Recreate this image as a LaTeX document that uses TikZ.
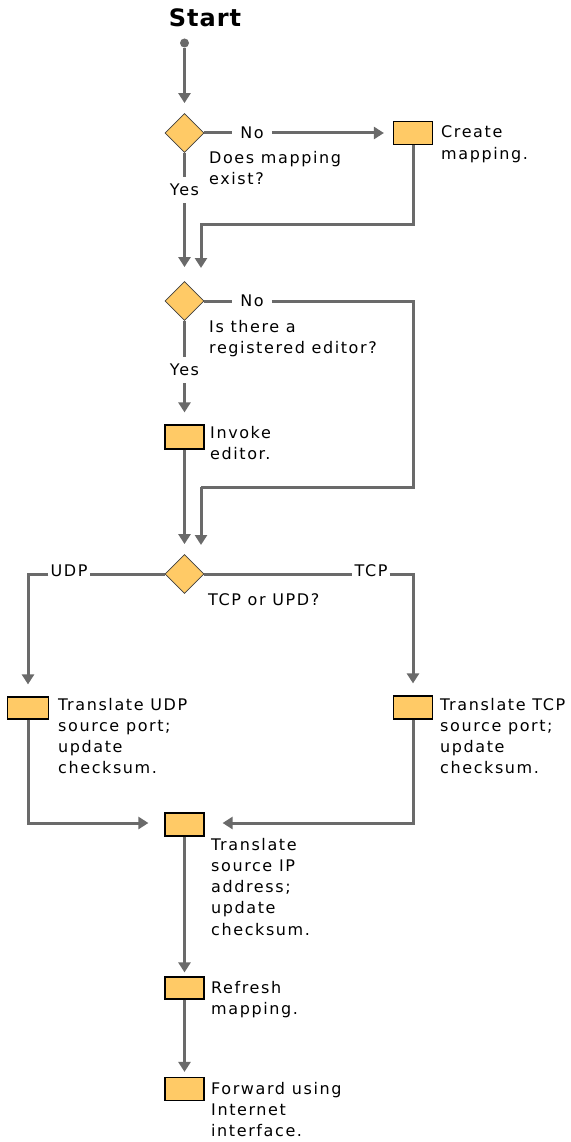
\documentclass[tikz,border=0pt]{standalone}
\usepackage{fontspec}
\usetikzlibrary{shapes.geometric,arrows.meta}
\newfontfamily\lblfont{DejaVu Sans}[LetterSpace=10]
\newfontfamily\startfont{DejaVu Sans}[LetterSpace=4]
\definecolor{boxfill}{HTML}{FFCA66}
\definecolor{linegray}{HTML}{6A6A6A}
\tikzset{
  stepbox/.style={draw=black, line width=1.2pt, fill=boxfill, minimum width=39pt, minimum height=23pt, inner sep=0pt},
  decision/.style={diamond, aspect=1, draw=black!75, line width=0.8pt, fill=boxfill, minimum size=39pt, inner sep=0pt},
  lbl/.style={font=\lblfont\fontsize{16}{21.3}\selectfont, align=left, inner sep=0pt, anchor=base west},
  branch/.style={font=\lblfont\fontsize{16}{21.3}\selectfont, inner ysep=7pt, inner xsep=8pt},
  conn/.style={draw=linegray, line width=3pt},
  flow/.style={conn, -{Triangle[width=12pt,length=10pt]}},
}
\begin{document}
\begin{tikzpicture}[x=1pt,y=-1pt]
\useasboundingbox (0,0) rectangle (570,1142);
% nodes (multi-line labels are placed by the baseline of their last line)
\node[font=\startfont\bfseries\fontsize{24}{27}\selectfont] (start) at (205,18) {Start};
\node[circle, fill=linegray, minimum size=9pt, inner sep=0pt] (dot) at (184.5,43) {};
\node[decision] (d1) at (184.5,133) {};
\node[branch] (no1) at (252,133) {No};
\node[stepbox] (create) at (413,133) {};
\node[lbl] (tcreate) at (441,159.3) {Create\\mapping.};
\node[lbl] (td1) at (209,184.3) {Does mapping\\exist?};
\node[branch] (yes1) at (184.5,190) {Yes};
\coordinate (c1a) at (413,224);
\coordinate (c1b) at (201,224);
\coordinate (e1) at (201,268);

\node[decision] (d2) at (184.5,301) {};
\node[branch] (no2) at (252,301) {No};
\node[lbl] (td2) at (209,353.3) {Is there a\\registered editor?};
\node[branch] (yes2) at (184.5,370) {Yes};
\node[stepbox, minimum height=24pt] (invoke) at (184.5,437) {};
\node[lbl] (tinvoke) at (210,459.3) {Invoke\\editor.};
\coordinate (c2a) at (413,301);
\coordinate (c2b) at (413,487);
\coordinate (c2c) at (201,487);
\coordinate (e2) at (201,545);

\node[decision] (d3) at (184.5,574) {};
\node[font=\lblfont\fontsize{16}{21.3}\selectfont, anchor=base, inner xsep=2pt, inner ysep=0pt] (udp) at (69,576) {UDP};
\node[font=\lblfont\fontsize{16}{21.3}\selectfont, anchor=base, inner xsep=2pt, inner ysep=0pt] (tcp) at (371,576) {TCP};
\node[lbl] (td3) at (208,605) {TCP or UPD?};
\coordinate (c3a) at (28,574);
\coordinate (c3b) at (413,574);

\node[stepbox, minimum width=41pt, minimum height=22pt] (udpbox) at (28,708) {};
\node[lbl] (tudp) at (58,773.9) {Translate UDP\\source port;\\update\\checksum.};
\node[stepbox, minimum height=23pt] (tcpbox) at (413,707.5) {};
\node[lbl] (ttcp) at (440,773.9) {Translate TCP\\source port;\\update\\checksum.};
\coordinate (c4a) at (28,823);
\coordinate (c4b) at (413,823);

\node[stepbox] (xlate) at (184.5,824.5) {};
\node[lbl] (txlate) at (211,935.2) {Translate\\source IP\\address;\\update\\checksum.};
\node[stepbox, minimum height=22pt] (refresh) at (184.5,988) {};
\node[lbl] (trefresh) at (211,1014.3) {Refresh\\mapping.};
\node[stepbox] (forward) at (184.5,1089) {};
\node[lbl] (tforward) at (211,1136.6) {Forward using\\Internet\\interface.};

% connectors
\draw[flow, shorten >=10pt] (dot) -- (d1.north);
\draw[conn] (d1.east) -- (no1.west);
\draw[flow, shorten >=9pt] (no1.east) -- (create.west);
\draw[conn] (d1.south) -- (yes1.north);
\draw[flow, shorten >=14pt] (yes1.south) -- (d2.north);
\draw[flow] (create.south) -- (c1a) -- (c1b) -- (e1);

\draw[conn] (d2.east) -- (no2.west);
\draw[conn] (no2.east) -- (c2a) -- (c2b) -- (c2c);
\draw[flow] (c2c) -- (e2);
\draw[conn] (d2.south) -- (yes2.north);
\draw[flow, shorten >=12pt] (yes2.south) -- (invoke.north);
\draw[flow, shorten >=10pt] (invoke.south) -- (d3.north);

\draw[conn] (d3.west) -- (udp.east |- d3.west);
\draw[flow, shorten >=12pt] (udp.west |- d3.west) -- (c3a) -- (udpbox.north);
\draw[conn] (d3.east) -- (tcp.west |- d3.east);
\draw[flow, shorten >=12pt] (tcp.east |- d3.east) -- (c3b) -- (tcpbox.north);

\draw[flow, shorten >=16pt] (udpbox.south) -- (c4a) -- (c4a -| xlate.west);
\draw[flow, shorten >=18pt] (tcpbox.south) -- (c4b) -- (c4b -| xlate.east);
\draw[flow, shorten >=4pt] (xlate.south) -- (refresh.north);
\draw[flow, shorten >=5pt] (refresh.south) -- (forward.north);
\end{tikzpicture}
\end{document}
